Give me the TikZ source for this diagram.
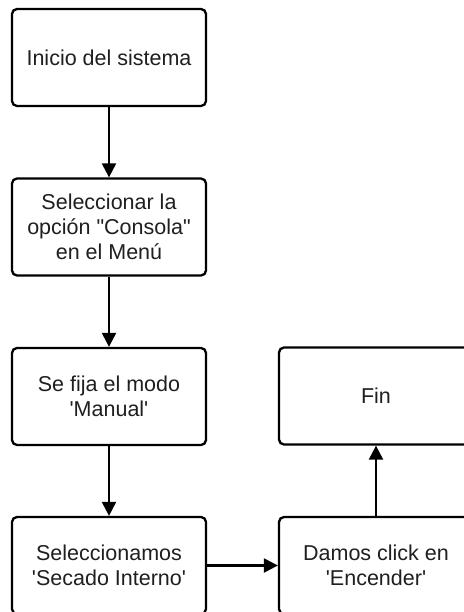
\documentclass[tikz,border=0pt]{standalone}
\usepackage{fontspec}
\setmainfont{Liberation Sans}[Ligatures=TeXOff]
\usetikzlibrary{arrows.meta}
\begin{document}
\begin{tikzpicture}[x=1pt,y=-1pt,
  stepbox/.style={draw=black,line width=2.3pt,rounded corners=5pt,minimum width=194pt,minimum height=97pt,
    align=center,font=\fontsize{21.5}{25}\selectfont,text=black!88,inner sep=0pt},
  conn/.style={line width=2.3pt,-{Triangle[length=14pt,width=14pt]}}]
\useasboundingbox (0,0) rectangle (463,612);
\fill[white] (0,0) rectangle (463,612);
\node[stepbox] (a) at (109,57.5) {Inicio del sistema};
\node[stepbox] (b) at (109,227) {Seleccionar la\\opción "Consola"\\en el Menú};
\node[stepbox] (c) at (109,396.5) {Se fija el modo\\'Manual'};
\node[stepbox] (d) at (109,565.5) {Seleccionamos\\'Secado Interno'};
\node[stepbox] (e) at (376,565.5) {Damos click en\\'Encender'};
\node[stepbox] (f) at (376,396) {Fin};
\draw[conn] (a) -- (b);
\draw[conn] (b) -- (c);
\draw[conn] (c) -- (d);
\draw[conn] (d) -- (e);
\draw[conn] (e) -- (f);
\end{tikzpicture}
\end{document}
